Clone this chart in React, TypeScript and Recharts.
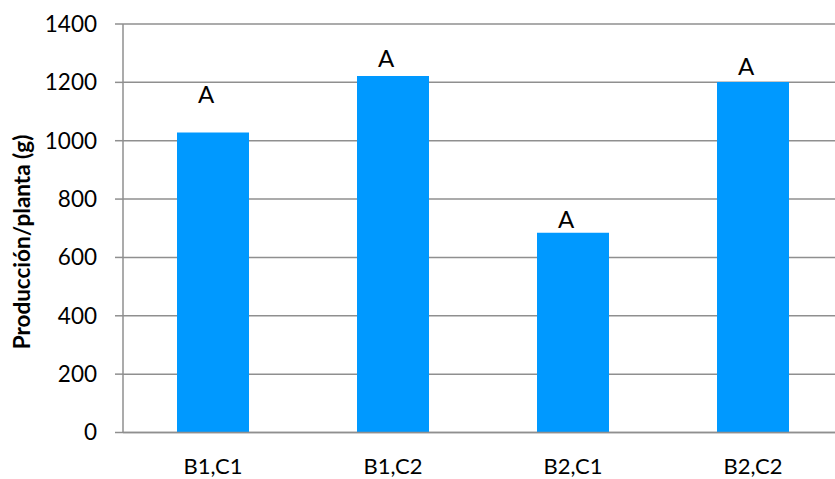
import React from 'react';
import { ComposedChart, Bar, Line, XAxis, YAxis, CartesianGrid, LabelList } from 'recharts';

// values
const categories = ['B1,C1', 'B1,C2', 'B2,C1', 'B2,C2'];
const production = [1028, 1222, 685, 1201];
// where the significance letters sit (in y units)
const letterPos = [1157, 1283, 731, 1255];
const letters = ['A', 'A', 'A', 'A'];
const yTicks = [0, 200, 400, 600, 800, 1000, 1200, 1400];

const data = categories.map((name, i) => ({
  name,
  value: production[i],
  letterY: letterPos[i],
  letter: letters[i],
}));

const FONT = 'Lato, "Open Sans", sans-serif';
const GRID = '#8f8f8f';

const App: React.FC = () => {
  return (
    <div
      style={{
        position: 'fixed',
        left: 0,
        top: 0,
        width: 835,
        height: 479,
        overflow: 'hidden',
        background: '#fff',
        fontFamily: FONT,
      }}
    >
      <div
        style={{
          position: 'absolute',
          left: 21,
          top: 242,
          transform: 'translate(-50%, -50%) rotate(-90deg)',
          whiteSpace: 'nowrap',
          fontWeight: 700,
          fontSize: 22.5,
          color: '#000',
        }}
      >
        Producción/planta (g)
      </div>
      <div style={{ position: 'absolute', left: 8, top: 8 }}>
        <ComposedChart
          width={840}
          height={471}
          data={data}
          margin={{ top: 16, right: 5, bottom: 0, left: 0 }}
        >
          <CartesianGrid vertical={false} stroke={GRID} strokeWidth={1.5} />
          <XAxis
            dataKey="name"
            height={46.5}
            tickLine={false}
            tickSize={0}
            tickMargin={26}
            axisLine={{ stroke: GRID, strokeWidth: 1.5 }}
            tick={{ fill: '#000', fontSize: 22, fontFamily: FONT }}
          />
          <YAxis
            width={115}
            domain={[0, 1400]}
            ticks={yTicks}
            tickSize={8}
            tickMargin={18}
            tickLine={{ stroke: GRID, strokeWidth: 1.5 }}
            axisLine={{ stroke: GRID, strokeWidth: 1.5 }}
            tick={{ fill: '#000', fontSize: 22.5, fontFamily: FONT }}
          />
          <Bar dataKey="value" fill="#0099ff" barSize={72} isAnimationActive={false} />
          <Line
            dataKey="letterY"
            stroke="none"
            dot={false}
            activeDot={false}
            legendType="none"
            isAnimationActive={false}
          >
            <LabelList
              dataKey="letter"
              position="center"
              dx={-7}
              style={{ fill: '#000', fontSize: 24, fontFamily: FONT }}
            />
          </Line>
        </ComposedChart>
      </div>
    </div>
  );
};

export default App;
